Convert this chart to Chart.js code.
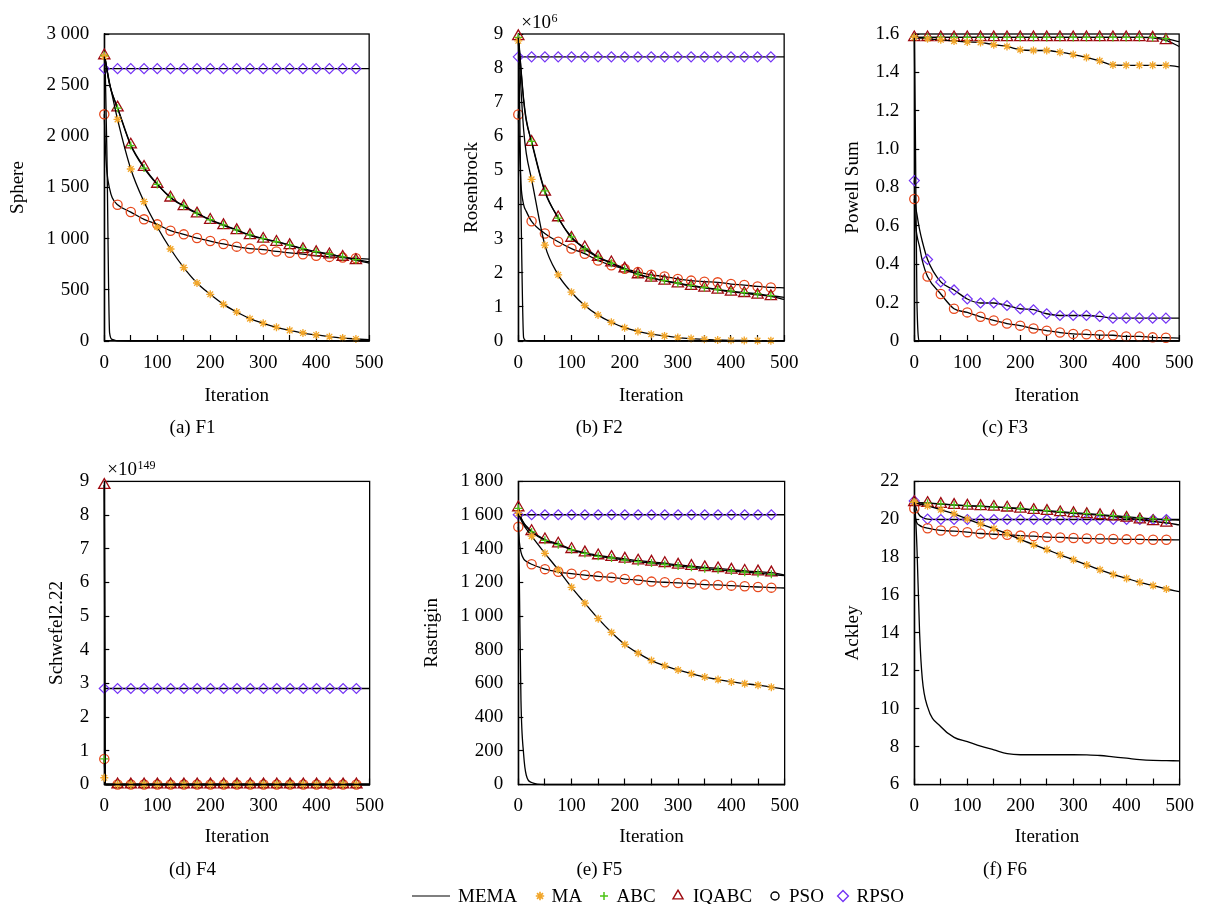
<!DOCTYPE html>
<html>
<head>
<meta charset="utf-8">
<script src="https://cdn.jsdelivr.net/npm/chart.js@4.4.1/dist/chart.umd.min.js"></script>
<style>
  body { margin: 0; background: #fff; }
  #page { position: relative; width: 1210px; height: 904px; overflow: hidden; background: #fff; }
  #page canvas { position: absolute; }
  .lg { position: absolute; font-family: "Liberation Serif", "Times New Roman", serif; font-size: 19px; line-height: 22.8px; color: #000; white-space: nowrap; }
</style>
</head>
<body>
<div id="page"></div>
<script>
// 迭代次數 (x)
const iterations = [0, 2, 5, 10, 15, 25, 50, 75, 100, 125, 150, 175, 200, 225, 250, 275, 300, 325, 350, 375, 400, 425, 450, 475, 500]
const algorithms = ['MEMA', 'MA', 'ABC', 'IQABC', 'PSO', 'RPSO']

// F1 Sphere
const f1MEMA = [2780, 2600, 1800, 80, 15, 1, 0, 0, 0, 0, 0, 0, 0, 0, 0, 0, 0, 0, 0, 0, 0, 0, 0, 0, 0]
const f1MA = [2780, 2740, 2660, 2520, 2400, 2166, 1681, 1361, 1114, 899, 717, 567, 456, 358, 283, 218, 173, 134, 104, 78, 59, 42, 29, 20, 12]
const f1ABC = [2790, 2750, 2650, 2510, 2420, 2275, 1910, 1690, 1530, 1405, 1320, 1250, 1185, 1135, 1085, 1037, 1000, 970, 938, 903, 873, 850, 823, 795, 775]
const f1IQABC = [2790, 2745, 2645, 2505, 2415, 2280, 1918, 1700, 1534, 1400, 1316, 1244, 1182, 1130, 1081, 1032, 997, 967, 935, 896, 866, 845, 821, 788, 762]
const f1PSO = [2215, 1900, 1650, 1490, 1400, 1332, 1260, 1189, 1140, 1078, 1042, 1006, 977, 948, 922, 903, 893, 875, 862, 848, 833, 822, 815, 808, 800]
const f1RPSO = [2661, 2661, 2661, 2661, 2661, 2661, 2661, 2661, 2661, 2661, 2661, 2661, 2661, 2661, 2661, 2661, 2661, 2661, 2661, 2661, 2661, 2661, 2661, 2661, 2661]

// F2 Rosenbrock (x10^6)
const f2MEMA = [8.9, 7.5, 4.0, 0.1, 0.01, 0, 0, 0, 0, 0, 0, 0, 0, 0, 0, 0, 0, 0, 0, 0, 0, 0, 0, 0, 0]
const f2MA = [8.8, 8.3, 7.4, 6.2, 5.5, 4.74, 2.81, 1.94, 1.43, 1.04, 0.76, 0.55, 0.39, 0.28, 0.20, 0.15, 0.10, 0.07, 0.05, 0.03, 0.02, 0.015, 0.01, 0.01, 0.01]
const f2ABC = [8.9, 8.55, 7.95, 7.05, 6.45, 5.85, 4.40, 3.60, 3.05, 2.70, 2.45, 2.28, 2.10, 1.96, 1.85, 1.77, 1.70, 1.63, 1.57, 1.51, 1.46, 1.42, 1.38, 1.33, 1.28]
const f2IQABC = [8.93, 8.6, 8.0, 7.1, 6.5, 5.83, 4.37, 3.62, 3.02, 2.74, 2.46, 2.30, 2.12, 1.95, 1.85, 1.76, 1.68, 1.61, 1.56, 1.50, 1.44, 1.40, 1.35, 1.31, 1.22]
const f2PSO = [6.64, 5.8, 4.6, 4.0, 3.8, 3.51, 3.15, 2.91, 2.71, 2.56, 2.36, 2.22, 2.12, 2.02, 1.94, 1.89, 1.82, 1.77, 1.74, 1.72, 1.67, 1.64, 1.60, 1.57, 1.56]
const f2RPSO = [8.33, 8.33, 8.33, 8.33, 8.33, 8.33, 8.33, 8.33, 8.33, 8.33, 8.33, 8.33, 8.33, 8.33, 8.33, 8.33, 8.33, 8.33, 8.33, 8.33, 8.33, 8.33, 8.33, 8.33, 8.33]

// F3 Powell Sum
const f3MEMA = [1.58, 1.1, 0.2, 0, 0, 0, 0, 0, 0, 0, 0, 0, 0, 0, 0, 0, 0, 0, 0, 0, 0, 0, 0, 0, 0]
const f3MA = [1.582, 1.581, 1.580, 1.579, 1.578, 1.575, 1.570, 1.563, 1.558, 1.556, 1.544, 1.535, 1.518, 1.514, 1.514, 1.505, 1.493, 1.478, 1.460, 1.439, 1.437, 1.437, 1.437, 1.437, 1.429]
const f3ABC = [1.582, 1.582, 1.582, 1.582, 1.582, 1.582, 1.582, 1.582, 1.582, 1.582, 1.582, 1.582, 1.582, 1.582, 1.582, 1.582, 1.582, 1.582, 1.582, 1.582, 1.582, 1.582, 1.582, 1.576, 1.560]
const f3IQABC = [1.582, 1.582, 1.582, 1.582, 1.582, 1.582, 1.582, 1.582, 1.582, 1.582, 1.582, 1.582, 1.582, 1.582, 1.582, 1.582, 1.582, 1.582, 1.582, 1.582, 1.582, 1.582, 1.580, 1.567, 1.535]
const f3PSO = [0.74, 0.62, 0.55, 0.49, 0.42, 0.336, 0.245, 0.168, 0.149, 0.126, 0.107, 0.091, 0.080, 0.065, 0.054, 0.044, 0.037, 0.035, 0.031, 0.030, 0.024, 0.024, 0.019, 0.017, 0.015]
const f3RPSO = [0.836, 0.72, 0.66, 0.58, 0.52, 0.425, 0.308, 0.266, 0.219, 0.198, 0.198, 0.185, 0.168, 0.163, 0.142, 0.133, 0.133, 0.133, 0.128, 0.119, 0.119, 0.119, 0.119, 0.119, 0.119]

// F4 Schwefel2.22 (x10^149)
const f4MEMA = [8.89, 0, 0, 0, 0, 0, 0, 0, 0, 0, 0, 0, 0, 0, 0, 0, 0, 0, 0, 0, 0, 0, 0, 0, 0]
const f4MA = [0.2, 0, 0, 0, 0, 0, 0, 0, 0, 0, 0, 0, 0, 0, 0, 0, 0, 0, 0, 0, 0, 0, 0, 0, 0]
const f4ABC = [0.76, 0, 0, 0, 0, 0, 0, 0, 0, 0, 0, 0, 0, 0, 0, 0, 0, 0, 0, 0, 0, 0, 0, 0, 0]
const f4IQABC = [8.89, 0, 0, 0, 0, 0, 0, 0, 0, 0, 0, 0, 0, 0, 0, 0, 0, 0, 0, 0, 0, 0, 0, 0, 0]
const f4PSO = [0.76, 0, 0, 0, 0, 0, 0, 0, 0, 0, 0, 0, 0, 0, 0, 0, 0, 0, 0, 0, 0, 0, 0, 0, 0]
const f4RPSO = [2.85, 2.85, 2.85, 2.85, 2.85, 2.85, 2.85, 2.85, 2.85, 2.85, 2.85, 2.85, 2.85, 2.85, 2.85, 2.85, 2.85, 2.85, 2.85, 2.85, 2.85, 2.85, 2.85, 2.85, 2.85]

// F5 Rastrigin
const f5MEMA = [1610, 1200, 500, 180, 55, 12, 0, 0, 0, 0, 0, 0, 0, 0, 0, 0, 0, 0, 0, 0, 0, 0, 0, 0, 0]
const f5MA = [1610, 1595, 1572, 1542, 1518, 1475, 1373, 1275, 1171, 1077, 985, 903, 832, 780, 736, 705, 680, 658, 638, 623, 609, 599, 590, 578, 566]
const f5ABC = [1640, 1612, 1582, 1552, 1530, 1500, 1450, 1424, 1394, 1372, 1355, 1345, 1333, 1323, 1315, 1307, 1298, 1290, 1282, 1275, 1268, 1261, 1255, 1248, 1240]
const f5IQABC = [1645, 1615, 1585, 1555, 1535, 1504, 1455, 1430, 1397, 1377, 1360, 1350, 1340, 1329, 1322, 1314, 1304, 1297, 1289, 1283, 1275, 1268, 1264, 1258, 1244]
const f5PSO = [1530, 1440, 1380, 1340, 1325, 1308, 1279, 1263, 1252, 1244, 1236, 1230, 1220, 1214, 1205, 1201, 1197, 1193, 1187, 1185, 1181, 1177, 1173, 1169, 1167]
const f5RPSO = [1602, 1602, 1602, 1602, 1602, 1602, 1602, 1602, 1602, 1602, 1602, 1602, 1602, 1602, 1602, 1602, 1602, 1602, 1602, 1602, 1602, 1602, 1602, 1602, 1602]

// F6 Ackley
const f6MEMA = [20.9, 20.3, 18.5, 14.0, 11.6, 10.1, 9.05, 8.49, 8.26, 8.02, 7.83, 7.63, 7.57, 7.57, 7.57, 7.57, 7.57, 7.56, 7.53, 7.46, 7.39, 7.31, 7.27, 7.26, 7.25]
const f6MA = [20.9, 20.88, 20.85, 20.8, 20.77, 20.71, 20.50, 20.29, 20.01, 19.75, 19.51, 19.23, 18.94, 18.66, 18.40, 18.12, 17.86, 17.59, 17.33, 17.09, 16.88, 16.67, 16.50, 16.32, 16.18]
const f6ABC = [20.9, 20.89, 20.88, 20.87, 20.86, 20.85, 20.81, 20.76, 20.72, 20.69, 20.66, 20.62, 20.57, 20.51, 20.46, 20.40, 20.35, 20.30, 20.25, 20.19, 20.13, 20.07, 20.02, 19.98, 19.96]
const f6IQABC = [20.9, 20.89, 20.88, 20.87, 20.86, 20.85, 20.80, 20.75, 20.71, 20.68, 20.65, 20.61, 20.55, 20.48, 20.43, 20.36, 20.31, 20.26, 20.21, 20.14, 20.07, 19.98, 19.89, 19.81, 19.70]
const f6PSO = [20.57, 20.1, 19.8, 19.68, 19.6, 19.53, 19.41, 19.37, 19.32, 19.25, 19.21, 19.18, 19.14, 19.11, 19.06, 19.04, 19.01, 18.99, 18.97, 18.96, 18.94, 18.94, 18.92, 18.92, 18.91]
const f6RPSO = [20.97, 20.75, 20.45, 20.2, 20.1, 20.01, 19.99, 19.99, 19.99, 19.99, 19.99, 19.99, 19.99, 19.99, 19.99, 19.99, 19.99, 19.99, 19.99, 19.99, 19.99, 19.99, 19.99, 19.99, 19.99]

// 樣式
const FONT = '"Liberation Serif", "Times New Roman", serif'
const FS = 19
const LH = FS * 1.2
const seriesStyle = {
    MEMA: { shape: 'line', color: '#000000', legendColor: '#000000', r: 0, lr: 0, bw: 1.2, lbw: 1.2 },
    MA: { shape: 'star', color: '#f2a62a', legendColor: '#f2a62a', r: 4, lr: 4.2, bw: 1.3, lbw: 1.7 },
    ABC: { shape: 'cross', color: '#4cc415', legendColor: '#4cc415', r: 4, lr: 4, bw: 1.3, lbw: 1.5 },
    IQABC: { shape: 'triangle', color: '#9e0a10', legendColor: '#9e0a10', r: 6.5, lr: 5.8, bw: 1.3, lbw: 1.4 },
    PSO: { shape: 'circle', color: '#e8481c', legendColor: '#000000', r: 4.6, lr: 4, bw: 1.3, lbw: 1.4 },
    RPSO: { shape: 'rectRot', color: '#7433f5', legendColor: '#7433f5', r: 5, lr: 5.4, bw: 1.2, lbw: 1.4 }
}

const cols = [
    { left: 0, width: 400, areaLeft: 104.3, areaRight: 385 },
    { left: 400, width: 415, areaLeft: 518.3, areaRight: 798.7 },
    { left: 815, width: 395, areaLeft: 914.3, areaRight: 1195 }
]
const rows = [
    { top: 0, height: 450, areaTop: 34, areaBottom: 341, tickY: 363, titleY: 396, captionY: 428 },
    { top: 450, height: 454, areaTop: 478, areaBottom: 784.5, tickY: 806, titleY: 837, captionY: 870 }
]

const thousands = v => v >= 1000 ? Math.floor(v / 1000) + ' ' + String(v % 1000).padStart(3, '0') : String(v)

const panels = [
    { row: 0, col: 0, caption: '(a) F1', yTitle: 'Sphere', titleX: 18, min: 0, max: 3000, step: 500, fmt: thousands, series: [f1MEMA, f1MA, f1ABC, f1IQABC, f1PSO, f1RPSO] },
    { row: 0, col: 1, caption: '(b) F2', yTitle: 'Rosenbrock', titleX: 471.7, min: 0, max: 9, step: 1, fmt: v => String(v), exp: '6', series: [f2MEMA, f2MA, f2ABC, f2IQABC, f2PSO, f2RPSO] },
    { row: 0, col: 2, caption: '(c) F3', yTitle: 'Powell Sum', titleX: 853.3, min: 0, max: 1.6, step: 0.2, fmt: v => v === 0 ? '0' : v.toFixed(1), series: [f3MEMA, f3MA, f3ABC, f3IQABC, f3PSO, f3RPSO] },
    { row: 1, col: 0, caption: '(d) F4', yTitle: 'Schwefel2.22', titleX: 56.7, min: 0, max: 9, step: 1, fmt: v => String(v), exp: '149', series: [f4MEMA, f4MA, f4ABC, f4IQABC, f4PSO, f4RPSO] },
    { row: 1, col: 1, caption: '(e) F5', yTitle: 'Rastrigin', titleX: 431.7, min: 0, max: 1800, step: 200, fmt: thousands, series: [f5MEMA, f5MA, f5ABC, f5IQABC, f5PSO, f5RPSO] },
    { row: 1, col: 2, caption: '(f) F6', yTitle: 'Ackley', titleX: 853.3, min: 6, max: 22, step: 2, fmt: v => String(v), series: [f6MEMA, f6MA, f6ABC, f6IQABC, f6PSO, f6RPSO] }
]

// 外框 + 指數標記
const framePlugin = {
    id: 'frame',
    beforeDatasetsDraw(chart) {
        const { ctx, chartArea: a } = chart
        ctx.save()
        ctx.strokeStyle = '#000'
        ctx.lineWidth = 1.3
        ctx.strokeRect(a.left, a.top, a.right - a.left, a.bottom - a.top)
        ctx.restore()
    },
    afterDraw(chart, args, opts) {
        if (!opts.exp) return
        const { ctx, chartArea: a } = chart
        ctx.save()
        ctx.fillStyle = '#000'
        ctx.textBaseline = 'alphabetic'
        ctx.textAlign = 'left'
        ctx.font = FS + 'px ' + FONT
        const x0 = a.left + 3
        const base = a.top - 6.5
        ctx.fillText('\u00d710', x0, base)
        const w = ctx.measureText('\u00d710').width
        ctx.font = '12px ' + FONT
        ctx.fillText(opts.exp, x0 + w + 0.5, base - 6)
        ctx.restore()
    }
}

const isMarker = x => x % 25 === 0 && x < 500

function makePanel(p) {
    const col = cols[p.col]
    const row = rows[p.row]
    const cv = document.createElement('canvas')
    cv.width = col.width
    cv.height = row.height
    cv.style.left = col.left + 'px'
    cv.style.top = row.top + 'px'
    document.getElementById('page').appendChild(cv)

    const capTop = row.captionY - LH / 2
    const capPadBottom = row.top + row.height - row.captionY - LH / 2
    const xH = capTop - row.areaBottom
    const xTickPad = row.tickY - row.areaBottom + 6 - LH / 2
    const xTitlePad = capTop - row.titleY - LH / 2
    const yW = col.areaLeft - col.left
    const yTitlePad = p.titleX - col.left - LH / 2
    const font = { family: FONT, size: FS, weight: 'normal' }

    const datasets = algorithms.map((name, k) => {
        const st = seriesStyle[name]
        return {
            label: name,
            data: iterations.map((x, i) => ({ x: x, y: p.series[k][i] })),
            borderColor: '#000',
            borderWidth: 1.3,
            fill: false,
            cubicInterpolationMode: 'monotone',
            clip: false,
            pointStyle: st.shape,
            pointRadius: ctx => (st.r > 0 && ctx.raw && isMarker(ctx.raw.x)) ? st.r : 0,
            pointBorderColor: st.color,
            pointBackgroundColor: 'rgba(0,0,0,0)',
            pointBorderWidth: st.bw,
            pointHoverRadius: 0
        }
    })

    return new Chart(cv.getContext('2d'), {
        type: 'line',
        data: { datasets: datasets },
        plugins: [framePlugin],
        options: {
            responsive: false,
            animation: false,
            devicePixelRatio: 1,
            events: [],
            layout: { padding: { left: 0, top: row.areaTop - row.top, right: col.left + col.width - col.areaRight, bottom: 0 } },
            plugins: {
                legend: { display: false },
                tooltip: { enabled: false },
                title: { display: true, position: 'bottom', text: p.caption, color: '#000', font: font, padding: { top: 0, bottom: capPadBottom } },
                frame: { exp: p.exp }
            },
            scales: {
                x: {
                    type: 'linear',
                    min: 0,
                    max: 500,
                    ticks: { stepSize: 50, autoSkip: false, maxRotation: 0, minRotation: 0, padding: xTickPad, color: '#000', font: font, callback: v => v % 100 === 0 ? String(v) : '' },
                    grid: { drawOnChartArea: false, drawTicks: true, tickLength: -6, color: '#000', tickColor: '#000', tickWidth: 1.2 },
                    border: { color: '#000', width: 1.3 },
                    title: { display: true, text: 'Iteration', color: '#000', font: font, padding: { top: 0, bottom: xTitlePad } },
                    afterFit: s => { s.height = xH }
                },
                y: {
                    type: 'linear',
                    min: p.min,
                    max: p.max,
                    ticks: { stepSize: p.step, padding: 20, color: '#000', font: font, callback: p.fmt },
                    grid: { drawOnChartArea: false, drawTicks: true, tickLength: -5, color: '#000', tickColor: '#000', tickWidth: 1.2 },
                    border: { color: '#000', width: 1.3 },
                    title: { display: true, text: p.yTitle, color: '#000', font: font, padding: { top: yTitlePad, bottom: 0 } },
                    afterFit: s => { s.width = yW }
                }
            }
        }
    })
}

panels.forEach(makePanel)

// 圖例
const legendY = 896
const legendItems = [
    { name: 'MEMA', symX: 430.5, textX: 458 },
    { name: 'MA', symX: 540, textX: 551.5 },
    { name: 'ABC', symX: 604, textX: 616.5 },
    { name: 'IQABC', symX: 677.7, textX: 693 },
    { name: 'PSO', symX: 775, textX: 789 },
    { name: 'RPSO', symX: 843, textX: 856.5 }
]
const page = document.getElementById('page')
legendItems.forEach(item => {
    const st = seriesStyle[item.name]
    const c = document.createElement('canvas')
    const w = item.name === 'MEMA' ? 40 : 16
    c.width = w
    c.height = 16
    c.style.left = (item.symX - w / 2) + 'px'
    c.style.top = (legendY - 8) + 'px'
    page.appendChild(c)
    const ctx = c.getContext('2d')
    ctx.strokeStyle = st.legendColor
    ctx.fillStyle = 'rgba(0,0,0,0)'
    ctx.lineWidth = st.lbw
    if (item.name === 'MEMA') {
        ctx.beginPath()
        ctx.moveTo(1, 8)
        ctx.lineTo(39, 8)
        ctx.stroke()
    } else {
        Chart.helpers.drawPoint(ctx, { pointStyle: st.shape, radius: st.lr, borderWidth: st.lbw, rotation: 0 }, w / 2, 8)
    }
    const t = document.createElement('div')
    t.className = 'lg'
    t.textContent = item.name
    t.style.left = item.textX + 'px'
    t.style.top = (legendY - 11.5) + 'px'
    page.appendChild(t)
})
</script>
</body>
</html>
